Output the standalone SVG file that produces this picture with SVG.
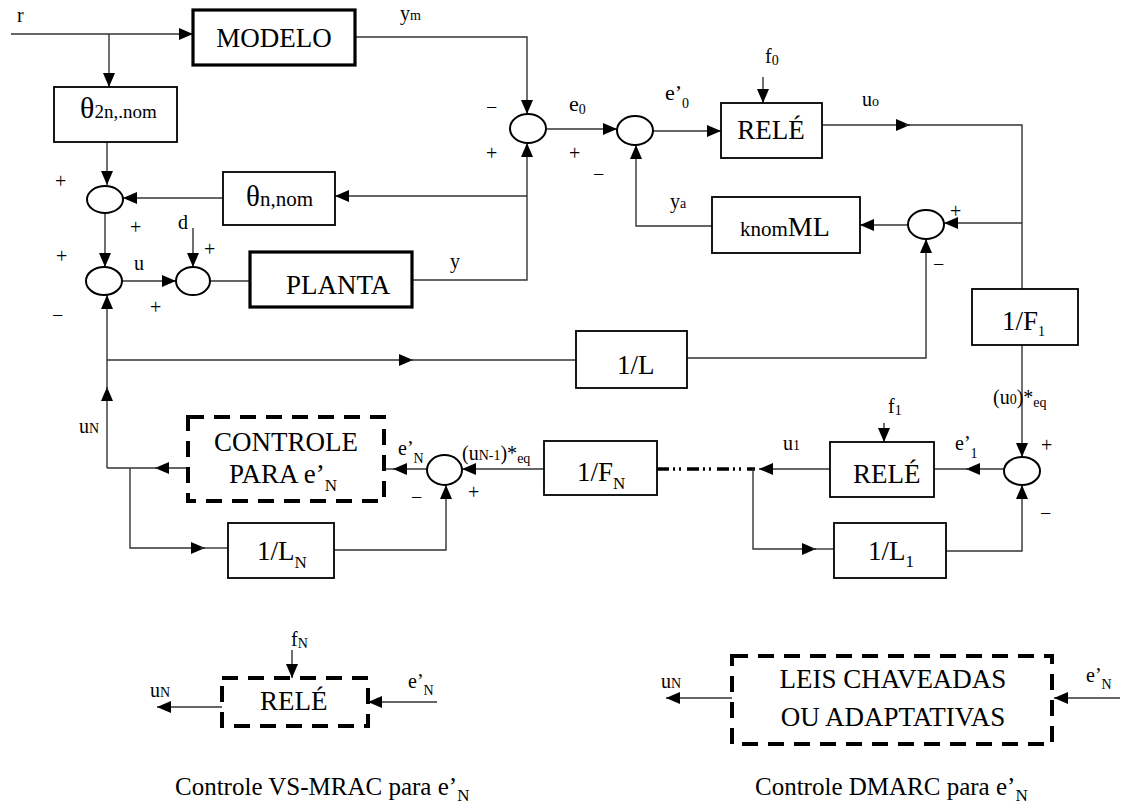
<svg xmlns="http://www.w3.org/2000/svg" width="1133" height="811" viewBox="0 0 1133 811">
<defs>
<marker id="a" viewBox="0 0 14 12" markerWidth="14" markerHeight="12" refX="14" refY="6" orient="auto" markerUnits="userSpaceOnUse"><path d="M0,0 L14,6 L0,12 z" fill="#000"/></marker>
<style>
text{font-family:"Liberation Serif","Times New Roman",serif;fill:#000}
.c{fill:none;stroke:#333;stroke-width:1.4}
.m{marker-end:url(#a)}
.b{fill:#fff;stroke:#000;stroke-width:1.8}
.bb{fill:#fff;stroke:#000;stroke-width:3.2}
.d{fill:none;stroke:#000;stroke-width:4;stroke-dasharray:16 10}
.s{fill:#fff;stroke:#000;stroke-width:2}
.t{font-size:27px}
.l{font-size:20px}
.sm{font-size:14px}
.p{font-size:20px}
.cap{font-size:25px}
</style>
</defs>
<g id="connectors">
<path class="c m" d="M11,34 H193"/>
<path class="c m" d="M109,34 V87"/>
<path class="c m" d="M355,37 H527 V114"/>
<path class="c m" d="M107,142 V185"/>
<path class="c m" d="M105,213 V267"/>
<path class="c m" d="M122,281 H176"/>
<path class="c m" d="M193,228 V267"/>
<path class="c" d="M210,281 H250"/>
<path class="c m" d="M412,280 H527 V143"/>
<path class="c m" d="M527,196 H335"/>
<path class="c m" d="M223,198 H123"/>
<path class="c m" d="M546,129 H617"/>
<path class="c m" d="M653,131 H721"/>
<path class="c m" d="M763,77 V103"/>
<path class="c m" d="M822,125 H910"/>
<path class="c" d="M905,125 H1022 V289"/>
<path class="c m" d="M1022,223 H944"/>
<path class="c m" d="M908,225 H860"/>
<path class="c m" d="M712,226 H636 V145"/>
<path class="c m" d="M107,468 V387"/>
<path class="c m" d="M107,390 V295"/>
<path class="c m" d="M107,360 H413"/>
<path class="c" d="M410,360 H576"/>
<path class="c m" d="M687,358 H926 V239"/>
<path class="c m" d="M1022,345 V457"/>
<path class="c m" d="M1004,469 H966"/>
<path class="c" d="M969,469 H934"/>
<path class="c m" d="M830,469 H759"/>
<path d="M657,469 H755" fill="none" stroke="#000" stroke-width="3.5" stroke-dasharray="12 4 2 4 2 6"/>
<path class="c m" d="M753,469 V549 H816"/>
<path class="c" d="M812,549 H834"/>
<path class="c m" d="M884,423 V442"/>
<path class="c m" d="M946,551 H1022 V485"/>
<path class="c m" d="M544,469 H462"/>
<path class="c m" d="M427,469 H393"/>
<path class="c" d="M395,469 H384"/>
<path class="c m" d="M188,468 H155"/>
<path class="c" d="M158,468 H107"/>
<path class="c m" d="M130,468 V548 H205"/>
<path class="c" d="M200,548 H228"/>
<path class="c m" d="M334,550 H446 V485"/>
<path class="c m" d="M292,650 V678"/>
<path class="c m" d="M222,707 H157"/>
<path class="c m" d="M437,702 H368"/>
<path class="c m" d="M732,698 H666"/>
<path class="c m" d="M1120,698 H1054"/>
</g>
<g id="modelo"><rect class="bb" x="193" y="10" width="162" height="55"/><text class="t" x="274" y="47" text-anchor="middle">MODELO</text></g>
<g id="theta2n"><rect class="b" x="54" y="87" width="123" height="55"/><text x="80" y="118"><tspan font-size="30px">θ</tspan><tspan font-size="19px">2n,.nom</tspan></text></g>
<g id="thetan"><rect class="b" x="223" y="172" width="112" height="53"/><text x="246" y="206"><tspan font-size="29px">θ</tspan><tspan font-size="21px">n,nom</tspan></text></g>
<g id="planta"><rect class="bb" x="250" y="252" width="162" height="55"/><text class="t" x="286" y="294">PLANTA</text></g>
<g id="rele0"><rect class="b" x="721" y="103" width="101" height="55"/><text class="t" x="771" y="139" text-anchor="middle">RELÉ</text></g>
<g id="kml"><rect class="b" x="712" y="197" width="148" height="56"/><text x="740" y="236"><tspan font-size="21px">knom</tspan><tspan font-size="28px">ML</tspan></text></g>
<g id="invL"><rect class="b" x="576" y="331" width="111" height="57"/><text class="t" x="617" y="374">1/L</text></g>
<g id="invF1"><rect class="b" x="972" y="289" width="106" height="56"/><text x="1002" y="330"><tspan class="t">1/F</tspan><tspan class="sm" dy="6">1</tspan></text></g>
<g id="invFN"><rect class="b" x="544" y="441" width="113" height="54"/><text x="577" y="481"><tspan class="t">1/F</tspan><tspan font-size="17px" dy="8">N</tspan></text></g>
<g id="rele1"><rect class="b" x="830" y="442" width="104" height="55"/><text class="t" x="853" y="483">RELÉ</text></g>
<g id="invL1"><rect class="b" x="834" y="523" width="112" height="55"/><text x="868" y="560"><tspan class="t">1/L</tspan><tspan font-size="17px" dy="7">1</tspan></text></g>
<g id="invLN"><rect class="b" x="228" y="523" width="106" height="55"/><text x="257" y="560"><tspan class="t">1/L</tspan><tspan font-size="17px" dy="8">N</tspan></text></g>
<g id="controle"><rect class="d" x="188" y="417" width="196" height="84"/><text class="t" x="286" y="451" text-anchor="middle">CONTROLE</text><text x="229" y="483"><tspan class="t">PARA e’</tspan><tspan font-size="17px" dy="8">N</tspan></text></g>
<g id="sumA"><ellipse class="s" cx="528" cy="128.5" rx="18" ry="14.5"/></g>
<g id="sumB"><ellipse class="s" cx="635" cy="130.5" rx="18" ry="14.5"/></g>
<g id="sum1"><ellipse class="s" cx="105" cy="199.5" rx="18" ry="13.5"/></g>
<g id="sum2"><ellipse class="s" cx="104" cy="281" rx="18" ry="14"/></g>
<g id="sum3"><ellipse class="s" cx="193" cy="281" rx="17" ry="14"/></g>
<g id="sum6"><ellipse class="s" cx="926" cy="224.5" rx="18" ry="14.5"/></g>
<g id="sum4"><ellipse class="s" cx="444.5" cy="470" rx="17.5" ry="15"/></g>
<g id="sum5"><ellipse class="s" cx="1022" cy="471" rx="18" ry="14"/></g>
<g id="vsrele"><rect class="d" x="222" y="678" width="146" height="48"/><text class="t" x="260" y="710">RELÉ</text></g>
<g id="leis"><rect class="d" x="732" y="656" width="320" height="88"/><text class="t" x="893" y="688" text-anchor="middle">LEIS CHAVEADAS</text><text class="t" x="893" y="726" text-anchor="middle">OU ADAPTATIVAS</text></g>
<g id="labels">
<text class="l" x="17" y="22">r</text>
<text x="400" y="20"><tspan class="l">y</tspan><tspan class="sm">m</tspan></text>
<text x="569" y="111"><tspan font-size="22px">e</tspan><tspan class="sm" dy="3">0</tspan></text>
<text x="665" y="100"><tspan font-size="22px">e’</tspan><tspan class="sm" dy="8">0</tspan></text>
<text x="765" y="63"><tspan class="l">f</tspan><tspan class="sm" dy="2">0</tspan></text>
<text x="862" y="106"><tspan class="l">u</tspan><tspan class="sm">o</tspan></text>
<text x="670" y="208"><tspan class="l">y</tspan><tspan class="sm">a</tspan></text>
<text class="l" x="450" y="268">y</text>
<text class="l" x="134" y="270">u</text>
<text class="l" x="178" y="229">d</text>
<text x="993" y="404"><tspan class="l">(u</tspan><tspan class="sm">0</tspan><tspan class="l">)*</tspan><tspan class="sm" dy="3">eq</tspan></text>
<text x="462" y="460"><tspan class="l">(u</tspan><tspan class="sm">N-1</tspan><tspan class="l">)*</tspan><tspan class="sm" dy="3">eq</tspan></text>
<text x="398" y="455"><tspan class="l">e’</tspan><tspan class="sm" dy="8">N</tspan></text>
<text x="79" y="433"><tspan class="l">u</tspan><tspan class="sm">N</tspan></text>
<text x="783" y="450"><tspan class="l">u</tspan><tspan class="sm">1</tspan></text>
<text x="955" y="450"><tspan class="l">e’</tspan><tspan class="sm" dy="8">1</tspan></text>
<text x="888" y="413"><tspan class="l">f</tspan><tspan class="sm" dy="2">1</tspan></text>
<text x="291" y="646"><tspan class="l">f</tspan><tspan class="sm" dy="2">N</tspan></text>
<text x="150" y="697"><tspan class="l">u</tspan><tspan class="sm">N</tspan></text>
<text x="408" y="688"><tspan class="l">e’</tspan><tspan class="sm" dy="7">N</tspan></text>
<text x="661" y="688"><tspan class="l">u</tspan><tspan class="sm">N</tspan></text>
<text x="1086" y="682"><tspan class="l">e’</tspan><tspan class="sm" dy="7">N</tspan></text>
<text class="cap" x="175" y="795">Controle VS-MRAC para e’<tspan font-size="17px" dy="6">N</tspan></text>
<text class="cap" x="755" y="795">Controle DMARC para e’<tspan font-size="17px" dy="6">N</tspan></text>
</g>
<g id="signs">
<text class="p" x="55" y="188">+</text>
<text class="p" x="130" y="234">+</text>
<text class="p" x="56" y="263">+</text>
<text class="p" x="52" y="322">−</text>
<text class="p" x="150" y="314">+</text>
<text class="p" x="204" y="256">+</text>
<text class="p" x="486" y="114">−</text>
<text class="p" x="486" y="160">+</text>
<text class="p" x="569" y="160">+</text>
<text class="p" x="593" y="181">−</text>
<text class="p" x="950" y="218">+</text>
<text class="p" x="933" y="271">−</text>
<text class="p" x="1041" y="452">+</text>
<text class="p" x="1040" y="520">−</text>
<text class="p" x="411" y="504">−</text>
<text class="p" x="468" y="499">+</text>
</g>
</svg>
